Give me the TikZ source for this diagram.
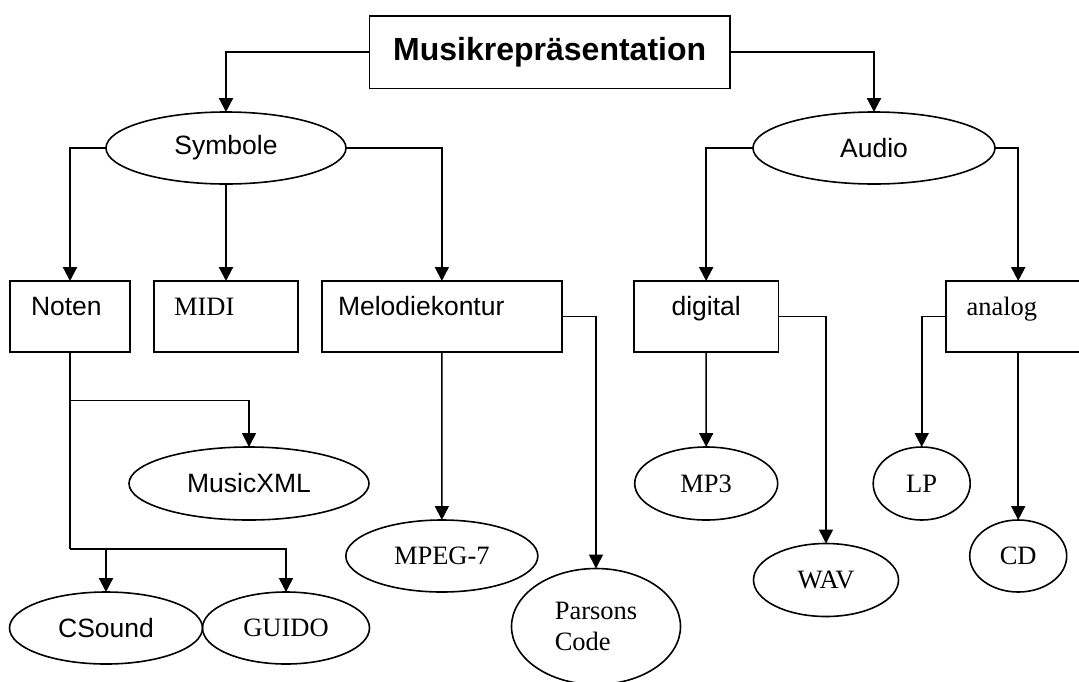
\documentclass[tikz,border=0pt]{standalone}
\usepackage{fontspec}
\setmainfont{Liberation Serif}
\newfontfamily\arialfont{Liberation Sans}
\usetikzlibrary{shapes.geometric,arrows.meta}

\begin{document}
\begin{tikzpicture}[x=1pt, y=-1pt,
        kasten/.style={draw, rectangle, line width=1.6pt, outer sep=0pt, inner ysep=0pt,
            text height=34pt, text depth=37pt, align=left, anchor=north west},
        oval/.style={draw, ellipse, line width=1.6pt, outer sep=0pt, inner sep=0pt},
        sans/.style={font=\arialfont\fontsize{26.5}{31.5}\selectfont},
        serif/.style={font=\fontsize{26.5}{31.5}\selectfont},
        dick/.style={line width=2.2pt},
        duenn/.style={line width=1.6pt},
        pfeil/.style={-{Triangle[length=14pt,width=14pt]}}]
        \useasboundingbox (0,0) rectangle (1079,681);
        % title
        \node[draw, line width=1.6pt, outer sep=0pt, minimum width=360.7pt, minimum height=72.6pt,
            font=\arialfont\bfseries\fontsize{32}{38}\selectfont] (titel) at (549.7,52) {Musikrepräsentation};
        % second level
        \node[oval, sans, minimum width=240pt, minimum height=72pt] (symbole) at (226,148) {Symbole};
        \node[oval, sans, minimum width=242pt, minimum height=72pt] (audio)   at (874,148) {Audio};
        % boxes
        \node[kasten, sans,  text width=78pt,    inner xsep=21pt] (noten)   at (10,281)  {Noten};
        \node[kasten, serif, text width=104pt,   inner xsep=20pt] (midi)    at (154,281) {MIDI};
        \node[kasten, sans,  text width=207.7pt, inner xsep=16pt] (melodie) at (322,281) {Melodiekontur};
        \node[kasten, sans,  text width=124.3pt, inner xsep=10pt, align=center] (digital) at (634,281) {digital};
        \node[kasten, serif, text width=103.4pt, inner xsep=20.5pt] (analog) at (946,281) {analog};
        % formats
        \node[oval, sans,  minimum width=240pt, minimum height=73pt] (musicxml) at (249,483.5) {MusicXML};
        \node[oval, sans,  minimum width=193pt, minimum height=72pt] (csound)   at (106,628)   {CSound};
        \node[oval, serif, minimum width=167pt, minimum height=72pt] (guido)    at (286,628)   {GUIDO};
        \node[oval, serif, minimum width=192pt, minimum height=72pt] (mpeg)     at (441.85,556) {MPEG-7};
        \node[oval, serif, minimum width=169pt, minimum height=116pt, align=left] (parsons) at (596,626.5) {Parsons\\Code};
        \node[oval, serif, minimum width=143pt, minimum height=73pt] (mpdrei)   at (706.2,483.5) {MP3};
        \node[oval, serif, minimum width=145pt, minimum height=73pt] (wav)      at (826,580)   {WAV};
        \node[oval, serif, minimum width=97pt,  minimum height=73pt] (lp)       at (921.7,483.5) {LP};
        \node[oval, serif, minimum width=97pt,  minimum height=72pt] (cd)       at (1018.2,556) {CD};
        % branch points below Noten
        \coordinate (n1) at (70,400.3);
        \coordinate (n2) at (70,549);
        % title to Symbole and Audio
        \draw[dick, pfeil] (titel.west) -| (symbole.north);
        \draw[dick, pfeil] (titel.east) -| (audio.north);
        % Symbole
        \draw[dick, pfeil]  (symbole.west)  -| (noten.north);
        \draw[dick, pfeil]  (symbole.south) -- (midi.north);
        \draw[duenn, pfeil] (symbole.east)  -| (melodie.north);
        % Audio
        \draw[dick, pfeil] (audio.west) -| (digital.north);
        \draw[dick, pfeil] (audio.east) -| (analog.north);
        % Noten
        \draw[dick] (noten.south) -- (n2);
        \draw[duenn, pfeil] (n1) -| (musicxml.north);
        \draw[dick, pfeil]  (n2) -| (csound.north);
        \draw[duenn, pfeil] (n2) -| (guido.north);
        % Melodiekontur
        \draw[duenn, pfeil] (melodie.south) -- (mpeg.north);
        \draw[duenn, pfeil] (melodie.east)  -| (parsons.north);
        % digital
        \draw[duenn, pfeil] (digital.south) -- (mpdrei.north);
        \draw[duenn, pfeil] (digital.east)  -| (wav.north);
        % analog
        \draw[duenn, pfeil] (analog.west)  -| (lp.north);
        \draw[duenn, pfeil] (analog.south) -- (cd.north);
\end{tikzpicture}
\end{document}
